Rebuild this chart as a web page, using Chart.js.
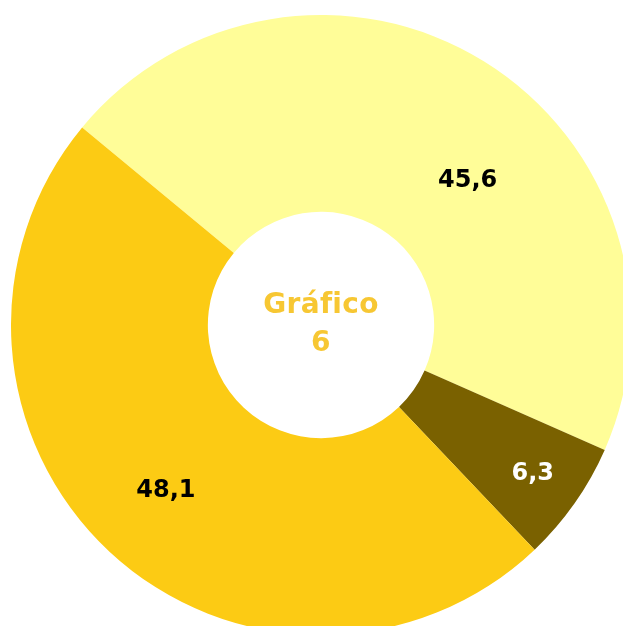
<!DOCTYPE html>
<html>
<head>
<meta charset="utf-8">
<script src="https://cdn.jsdelivr.net/npm/chart.js@4.4.1/dist/chart.umd.min.js"></script>
<style>
  html, body { margin: 0; padding: 0; background: #fff; overflow: hidden; }
  body { width: 623px; height: 626px; position: relative; }
  #wrap { position: absolute; left: 11px; top: 15px; width: 620px; height: 620px; }
</style>
</head>
<body>
<div id="wrap"><canvas id="chart"></canvas></div>
<script>
const categories = ["A", "B", "C"];
const values = [45.6, 6.3, 48.1];
const valueLabels = ["45,6", "6,3", "48,1"];
const sliceColors = ["#FFFD98", "#7A6100", "#FCCB14"];
const labelColors = ["#000000", "#FFFFFF", "#000000"];
const centerTitle = ["Gráfico", "6"];

// label placement along each arc: [angle fraction, radial fraction]
const labelPlace = [[0.584, 0.47], [0.5, 0.74], [0.5, 0.58]];

const sliceLabels = {
  id: "sliceLabels",
  afterDatasetsDraw(chart) {
    const ctx = chart.ctx;
    const meta = chart.getDatasetMeta(0);
    ctx.save();
    ctx.font = "bold 24px 'DejaVu Sans', sans-serif";
    ctx.textAlign = "center";
    ctx.textBaseline = "middle";
    meta.data.forEach((arc, i) => {
      const p = arc.getProps(["x", "y", "startAngle", "endAngle", "innerRadius", "outerRadius"], true);
      const a = p.startAngle + (p.endAngle - p.startAngle) * labelPlace[i][0];
      const r = p.innerRadius + (p.outerRadius - p.innerRadius) * labelPlace[i][1];
      ctx.fillStyle = labelColors[i];
      ctx.fillText(valueLabels[i], p.x + Math.cos(a) * r, p.y + Math.sin(a) * r);
    });
    // center text
    const c = meta.data[0];
    ctx.fillStyle = "#F7C733";
    ctx.font = "bold 28px 'DejaVu Sans', sans-serif";
    ctx.letterSpacing = "0.3px";
    ctx.fillText(centerTitle[0], c.x, c.y - 19);
    ctx.fillText(centerTitle[1], c.x, c.y + 19);
    ctx.restore();
  }
};

new Chart(document.getElementById("chart"), {
  type: "doughnut",
  data: {
    labels: categories,
    datasets: [{
      data: values,
      backgroundColor: sliceColors,
      borderWidth: 0,
      hoverOffset: 0
    }]
  },
  options: {
    responsive: true,
    maintainAspectRatio: false,
    animation: false,
    rotation: -50.4,
    cutout: "36.5%",
    layout: { padding: 0 },
    plugins: {
      legend: { display: false },
      tooltip: { enabled: false }
    }
  },
  plugins: [sliceLabels]
});
</script>
</body>
</html>
